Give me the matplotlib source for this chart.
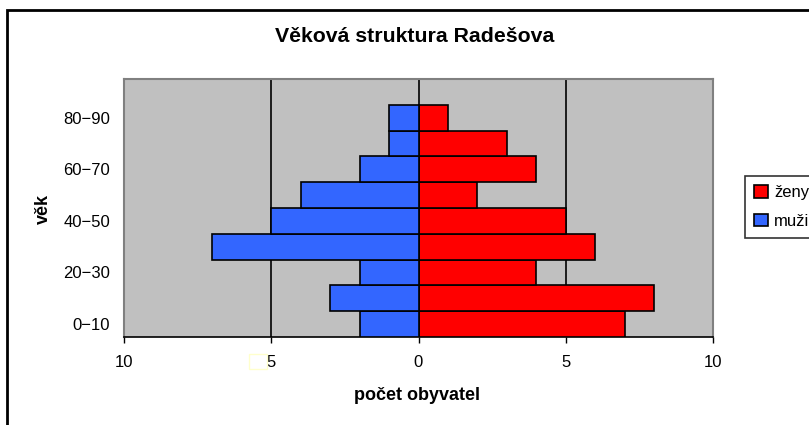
import numpy as np
import matplotlib.pyplot as plt
from matplotlib.patches import Rectangle

# Data
vek = ['0−10', '10−20', '20−30', '30−40', '40−50', '50−60', '60−70', '70−80', '80−90']
zeny = [7, 8, 4, 6, 5, 2, 4, 3, 1]
muzi = [2, 3, 2, 7, 5, 4, 2, 1, 1]
x_ticks = [-10, -5, 0, 5, 10]

plt.rcParams['font.family'] = ['Liberation Sans', 'DejaVu Sans']

W, H = 809, 425
fig = plt.figure(figsize=(W / 100, H / 100), dpi=100)

# plot area in pixels
left, right, top, bottom = 124, 713, 79, 337
ax = fig.add_axes([left / W, 1 - bottom / H, (right - left) / W, (bottom - top) / H])
ax.set_facecolor('#C0C0C0')

y = np.arange(len(vek))
ax.barh(y, zeny, height=1.0, color='#FF0000', edgecolor='black', linewidth=1.2,
        label='ženy', zorder=3)
ax.barh(y, -np.array(muzi), height=1.0, color='#3366FF', edgecolor='black', linewidth=1.2,
        label='muži', zorder=3)

ax.set_xlim(-10, 10)
# one empty slot above the oldest group, like the original
ax.set_ylim(-0.5, len(vek) + 0.5)
ax.set_xticks(x_ticks)
ax.set_xticklabels([str(abs(v)) for v in x_ticks])
ax.set_yticks(y[::2])
ax.set_yticklabels(vek[::2])

for v in [-5, 0, 5]:
    ax.axvline(v, color='black', linewidth=1.2, zorder=2)

for s in ['left', 'top', 'right']:
    ax.spines[s].set_color('#808080')
    ax.spines[s].set_linewidth(1.5)
ax.spines['bottom'].set_color('black')
ax.spines['bottom'].set_linewidth(1.2)

ax.tick_params(axis='x', direction='out', length=4, width=1, pad=9, labelsize=12)
ax.tick_params(axis='y', length=0, pad=10, labelsize=12)

fig.text(415 / W, 1 - 37 / H, 'Věková struktura Radešova', ha='center', va='center',
         fontsize=15.3, fontweight='bold')
fig.text(417 / W, 1 - 396 / H, 'počet obyvatel', ha='center', va='center',
         fontsize=13, fontweight='bold')
fig.text(43 / W, 1 - 209 / H, 'věk', ha='center', va='center', rotation=90,
         fontsize=13, fontweight='bold')

# outer frame (cut at right and bottom)
fig.patches.append(Rectangle((7 / W, -0.1), 1.2, 1 - 10 / H + 0.1, transform=fig.transFigure,
                             fill=False, edgecolor='black', linewidth=2))
# small stray box near tick label
fig.patches.append(Rectangle((249 / W, 1 - 369 / H), 18 / W, 15 / H, transform=fig.transFigure,
                             fill=False, edgecolor='#FFFFCC', linewidth=1))

leg = fig.legend(loc='upper left', bbox_to_anchor=(745 / W, 1 - 176 / H), fontsize=12,
                 frameon=True, fancybox=False, edgecolor='black', handlelength=0.8,
                 handleheight=0.8, handletextpad=0.4, borderpad=0.55, labelspacing=0.8,
                 borderaxespad=0)
leg.get_frame().set_linewidth(1.2)

fig.savefig('out.png', dpi=100)
